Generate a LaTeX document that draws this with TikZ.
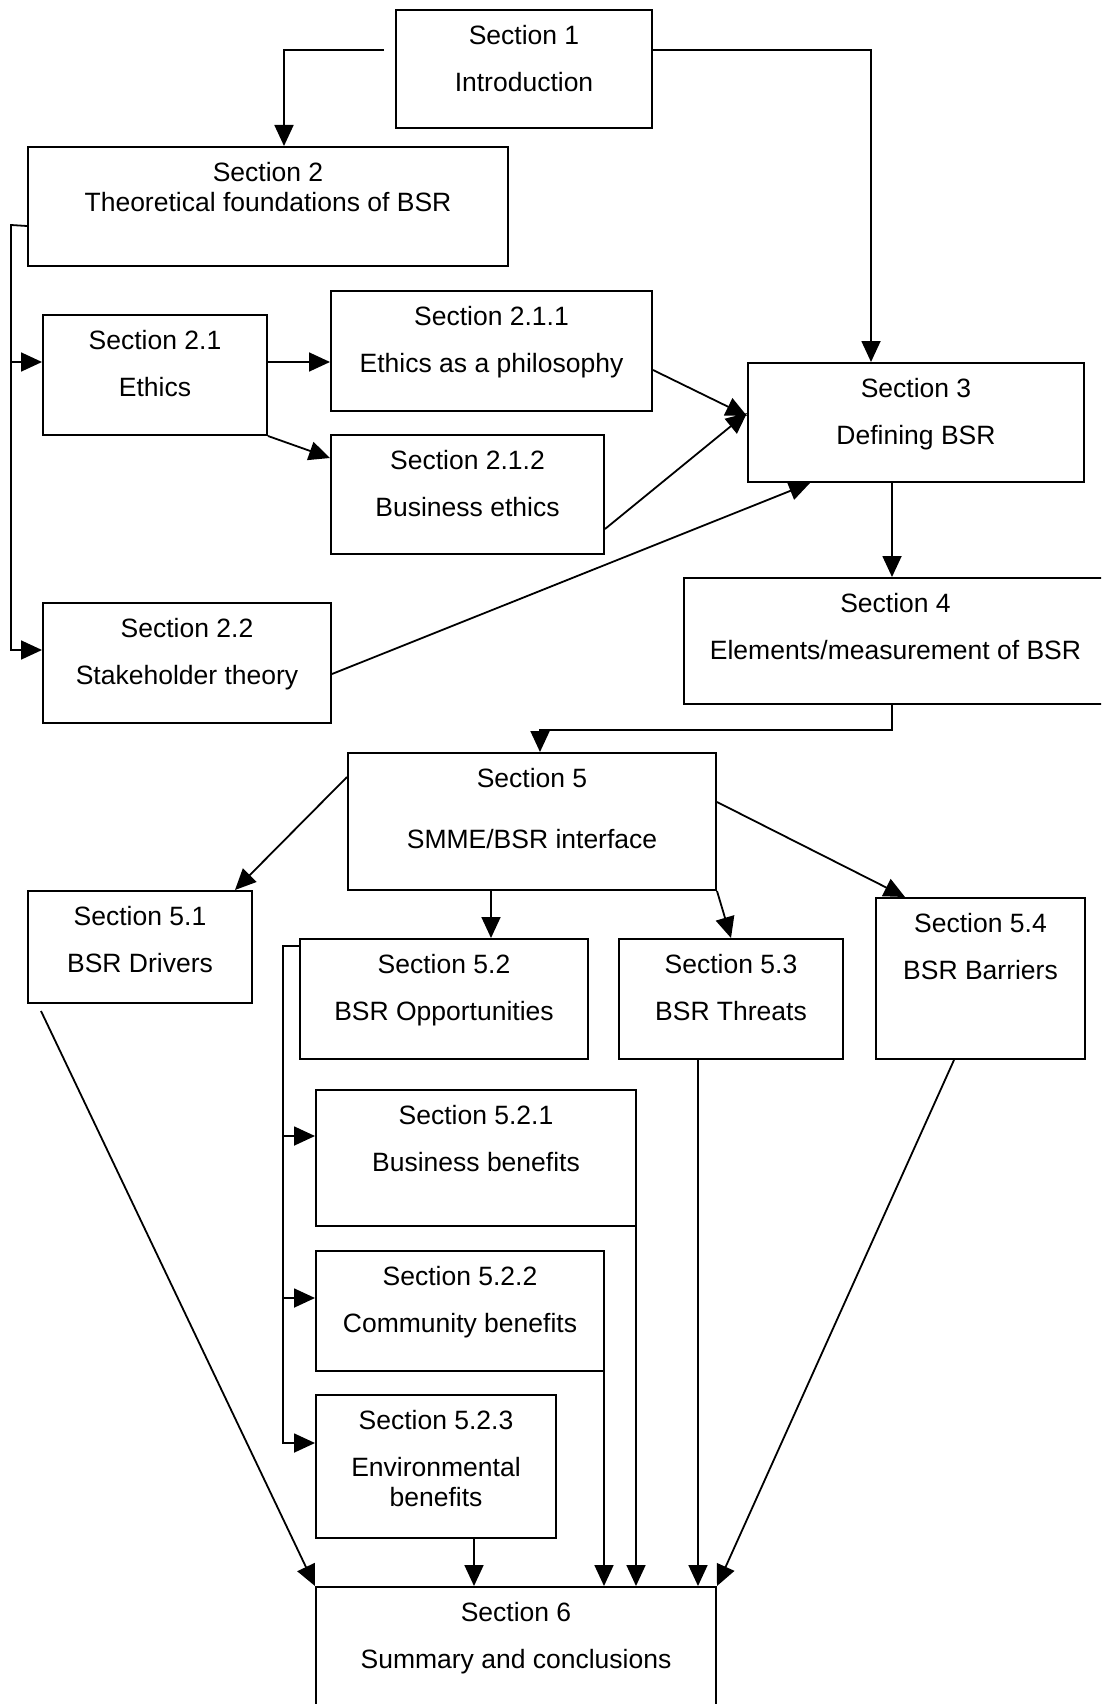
\documentclass[tikz,border=0pt]{standalone}
\usepackage{fontspec}
\setmainfont{Liberation Sans}
\usetikzlibrary{arrows.meta}

\tikzset{
  sbox/.style={draw, line width=2pt, anchor=north west, inner sep=0pt},
  stext/.style={anchor=north, align=center, inner sep=0pt, font=\fontsize{26.5}{30}\selectfont},
  conn/.style={line width=1.8pt, -{Triangle[length=21pt, width=19pt]}}
}

\begin{document}
\begin{tikzpicture}[x=1pt, y=-1pt]
    \path[use as bounding box, fill=white] (0,0) rectangle (1101,1704);
    \clip (0,0) rectangle (1101,1704);

    % Boxes of the sections
    \node[sbox, minimum width=256pt, minimum height=118pt] (s1) at (395,9) {};
    \node[sbox, minimum width=480pt, minimum height=119pt] (s2) at (27,146) {};
    \node[sbox, minimum width=224pt, minimum height=120pt] (s21) at (42,314) {};
    \node[sbox, minimum width=321pt, minimum height=120pt] (s211) at (330,290) {};
    \node[sbox, minimum width=273pt, minimum height=119pt] (s212) at (330,434) {};
    \node[sbox, minimum width=288pt, minimum height=120pt] (s22) at (42,602) {};
    \node[sbox, minimum width=336pt, minimum height=119pt] (s3) at (747,362) {};
    \node[sbox, minimum width=423pt, minimum height=126pt] (s4) at (683,577) {};
    \node[sbox, minimum width=368pt, minimum height=137pt] (s5) at (347,752) {};
    \node[sbox, minimum width=224pt, minimum height=112pt] (s51) at (27,890) {};
    \node[sbox, minimum width=288pt, minimum height=120pt] (s52) at (299,938) {};
    \node[sbox, minimum width=224pt, minimum height=120pt] (s53) at (618,938) {};
    \node[sbox, minimum width=209pt, minimum height=161pt] (s54) at (875,897) {};
    \node[sbox, minimum width=320pt, minimum height=136pt] (s521) at (315,1089) {};
    \node[sbox, minimum width=288pt, minimum height=120pt] (s522) at (315,1250) {};
    \node[sbox, minimum width=240pt, minimum height=143pt] (s523) at (315,1394) {};
    \node[sbox, minimum width=400pt, minimum height=134pt] (s6) at (315,1586) {};

    % Texts
    \node[stext] (s1t) at ([yshift=-16pt]s1.north) {Section 1\\[17pt]Introduction};
    \node[stext] (s2t) at ([yshift=-16pt]s2.north) {Section 2\\Theoretical foundations of BSR};
    \node[stext] (s21t) at ([yshift=-16pt]s21.north) {Section 2.1\\[17pt]Ethics};
    \node[stext] (s211t) at ([yshift=-16pt]s211.north) {Section 2.1.1\\[17pt]Ethics as a philosophy};
    \node[stext] (s212t) at ([yshift=-16pt]s212.north) {Section 2.1.2\\[17pt]Business ethics};
    \node[stext] (s22t) at ([yshift=-16pt]s22.north) {Section 2.2\\[17pt]Stakeholder theory};
    \node[stext] (s3t) at ([yshift=-16pt]s3.north) {Section 3\\[17pt]Defining BSR};
    \node[stext] (s4t) at ([yshift=-16pt]s4.north) {Section 4\\[17pt]Elements/measurement of BSR};
    \node[stext] (s5t) at ([yshift=-16pt]s5.north) {Section 5\\[31pt]SMME/BSR interface};
    \node[stext] (s51t) at ([yshift=-16pt]s51.north) {Section 5.1\\[17pt]BSR Drivers};
    \node[stext] (s52t) at ([yshift=-16pt]s52.north) {Section 5.2\\[17pt]BSR Opportunities};
    \node[stext] (s53t) at ([yshift=-16pt]s53.north) {Section 5.3\\[17pt]BSR Threats};
    \node[stext] (s54t) at ([yshift=-16pt]s54.north) {Section 5.4\\[17pt]BSR Barriers};
    \node[stext] (s521t) at ([yshift=-16pt]s521.north) {Section 5.2.1\\[17pt]Business benefits};
    \node[stext] (s522t) at ([yshift=-16pt]s522.north) {Section 5.2.2\\[17pt]Community benefits};
    \node[stext] (s523t) at ([yshift=-16pt]s523.north) {Section 5.2.3\\[17pt]Environmental\\benefits};
    \node[stext] (s6t) at ([yshift=-16pt]s6.north) {Section 6\\[17pt]Summary and conclusions};

    % Section 1 to 2 and 3
    \draw[conn] ([xshift=-11pt, yshift=19pt]s1.west) -| ([xshift=16pt]s2.north);
    \draw[conn] ([yshift=19pt]s1.east) -| ([xshift=-45pt]s3.north);

    % Section 2 branches
    \coordinate (bus2) at (11,225);
    \draw[conn] ([yshift=-19.5pt]s2.west) -- (bus2) |- ([yshift=-48pt]s22.north west);
    \draw[conn] (bus2) |- ([yshift=-48pt]s21.north west);
    \draw[conn] ([yshift=-48pt]s21.north east) -- ([yshift=-72pt]s211.north west);
    \draw[conn] (s21.south east) -- ([yshift=-24pt]s212.north west);

    % into Section 3
    \draw[conn] ([yshift=-80pt]s211.north east) -- ([yshift=-54pt]s3.north west);
    \draw[conn] ([yshift=-95pt]s212.north east) -- ([yshift=-51pt]s3.north west);
    \draw[conn] ([yshift=-72pt]s22.north east) -- ([xshift=63pt]s3.south west);

    % Section 3 to 4 to 5
    \draw[conn] ([xshift=-24pt]s3.south) -- ([xshift=-3.5pt]s4.north);
    \draw[conn] ([xshift=-3.5pt]s4.south) -- ++(0,25) -| ([xshift=8pt]s5.north);

    % Section 5 branches
    \draw[conn] ([yshift=-25pt]s5.north west) -- ([xshift=-18pt]s51.north east);
    \draw[conn] ([xshift=144pt]s5.south west) -- ([xshift=192pt]s52.north west);
    \draw[conn] (s5.south east) -- (s53.north);
    \draw[conn] ([yshift=-50pt]s5.north east) -- ([xshift=30pt]s54.north west);

    % Section 5.2 subsections
    \coordinate (bus52) at (283,946);
    \draw[conn] ([yshift=-8pt]s52.north west) -- (bus52) |- ([yshift=-49pt]s523.north west);
    \draw[conn] (bus52) |- ([yshift=-48pt]s522.north west);
    \draw[conn] (bus52) |- ([yshift=-47pt]s521.north west);

    % into Section 6
    \draw[conn] ([xshift=14pt, yshift=-7pt]s51.south west) -- (s6.north west);
    \draw[conn] ([xshift=38pt]s523.south) -- ([xshift=38pt]s523.south |- s6.north);
    \draw[conn] ([xshift=-1pt]s522.south east) -- ([xshift=-1pt]s522.south east |- s6.north);
    \draw[conn] ([xshift=-1pt]s521.south east) -- ([xshift=-1pt]s521.south east |- s6.north);
    \draw[conn] ([xshift=80pt]s53.south west) -- ([xshift=80pt]s53.south west |- s6.north);
    \draw[conn] ([xshift=79pt]s54.south west) -- (s6.north east);
\end{tikzpicture}
\end{document}
